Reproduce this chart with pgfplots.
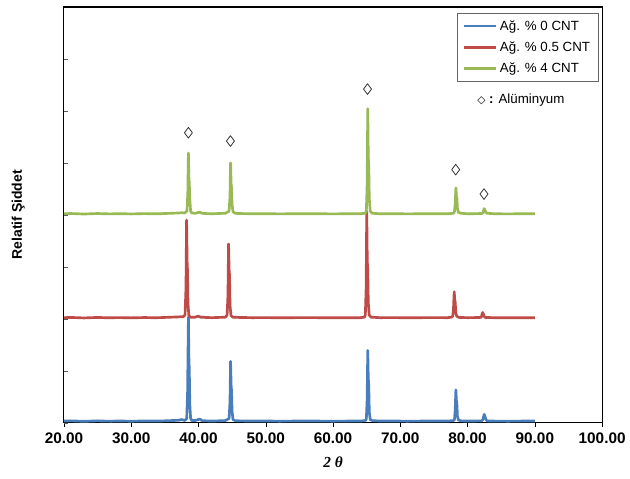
\documentclass[border=0pt]{standalone}
\usepackage{fontspec}
\setmainfont{Liberation Sans}
\newfontfamily\dejavu{DejaVu Sans}
\newfontfamily\serifit{Liberation Serif}
\usepackage{pgfplots}
\pgfplotsset{compat=1.18}

\definecolor{xblue}{HTML}{4A7EBB}
\definecolor{xred}{HTML}{BE4B48}
\definecolor{xgreen}{HTML}{98B954}

\begin{document}
\begin{tikzpicture}
\begin{axis}[
    scale only axis,
    width=404pt, height=312pt,
    xmin=20, xmax=100, ymin=0, ymax=8,
    xtick={20,30,...,100},
    ytick={0,1,...,8}, yticklabels={},
    tick pos=left,
    tick align=outside,
    major tick length=3pt,
    y tick style={xshift=3pt, gray!70!black},
    x tick style={black},
    axis line style={black, line width=0.8pt},
    /pgf/number format/.cd, fixed, fixed zerofill, precision=2, assume math mode=true,
    /pgfplots/.cd,
    ticklabel style={font=\bfseries\fontsize{11.5}{13}\selectfont},
    xticklabel style={yshift=-1pt},
    xlabel={\serifit\bfseries\itshape 2 θ},
    xlabel style={at={(axis description cs:0.5,-0.096)}, anchor=center, font=\fontsize{11.5}{13}\selectfont},
    ylabel={\bfseries Relatif Şiddet},
    ylabel style={at={(axis description cs:-0.085,0.5)}, anchor=center, font=\fontsize{10.5}{12}\selectfont},
    legend style={at={(0.993,0.985)}, anchor=north east, draw=gray!80!black, line width=0.5pt,
        font=\fontsize{10}{12}\selectfont, row sep=3pt, inner xsep=4pt, inner ysep=3pt},
    legend cell align=left,
    legend image code/.code={\draw[#1, line width=2pt] (0cm,0cm) -- (0.85cm,0cm);},
    every axis plot/.append style={line width=2pt, line join=round},
]
% Ag. % 0 CNT
\addplot[xblue] coordinates {
(20,0.03) (21,0.035) (22,0.03) (23,0.025) (24,0.03) (25,0.035) (26,0.03) (27,0.028) (28,0.032)
(29,0.03) (30,0.027) (31,0.03) (32,0.033) (33,0.03) (34,0.03) (35,0.035) (36,0.04) (37,0.045)
(37.5,0.06) (37.95,0.04) (38.25,0.08) (38.38,0.6) (38.5,2.03) (38.58,1.2) (38.63,1.05) (38.71,0.35)
(38.83,0.08) (39.0,0.04) (39.5,0.04) (40.2,0.07) (40.5,0.04) (41,0.035) (42,0.03) (43,0.035) (44,0.04)
(44.55,0.08) (44.68,0.4) (44.77,1.18) (44.85,0.72) (44.91,0.62) (44.99,0.22) (45.13,0.06) (45.4,0.04)
(46,0.035) (48,0.03) (50,0.032) (52,0.028) (54,0.03) (56,0.032) (58,0.03) (60,0.028) (62,0.03) (64,0.03)
(64.8,0.04) (64.95,0.07) (65.07,0.45) (65.16,1.39) (65.24,0.85) (65.31,0.72) (65.39,0.2) (65.53,0.06)
(65.8,0.04) (67,0.03) (69,0.032) (71,0.028) (73,0.03) (75,0.032) (77,0.03) (77.9,0.04)
(78.05,0.06) (78.16,0.25) (78.26,0.63) (78.34,0.42) (78.41,0.36) (78.49,0.12) (78.63,0.05) (79,0.035)
(80,0.03) (81,0.032) (82.1,0.035) (82.28,0.06) (82.47,0.16) (82.58,0.12) (82.68,0.08) (82.83,0.04)
(83,0.032) (84,0.03) (86,0.028) (88,0.03) (90,0.03)
};
\addlegendentry{Ağ. \% 0 CNT}
% Ag. % 0.5 CNT
\addplot[xred] coordinates {
(20,2.02) (21,2.025) (22,2.02) (23,2.015) (24,2.02) (25,2.025) (26,2.02) (27,2.018) (28,2.022)
(29,2.02) (30,2.017) (31,2.02) (32,2.023) (33,2.02) (34,2.02) (35,2.025) (36,2.03) (37,2.035)
(37.5,2.04) (37.7,2.035) (38.0,2.07) (38.14,2.6) (38.23,3.9) (38.31,3.1) (38.36,2.95) (38.44,2.3)
(38.56,2.07) (38.75,2.03) (39.5,2.03) (39.95,2.05) (40.3,2.03) (41,2.025) (42,2.02) (43,2.025) (44,2.03)
(44.25,2.07) (44.38,2.45) (44.47,3.44) (44.55,2.95) (44.61,2.85) (44.69,2.25) (44.83,2.06) (45.1,2.03)
(46,2.025) (48,2.02) (50,2.022) (52,2.018) (54,2.02) (56,2.022) (58,2.02) (60,2.018) (62,2.02) (64,2.02)
(64.65,2.03) (64.8,2.07) (64.92,2.6) (65.01,4.07) (65.09,3.1) (65.16,2.95) (65.24,2.3) (65.38,2.07)
(65.65,2.03) (67,2.02) (69,2.022) (71,2.018) (73,2.02) (75,2.022) (77,2.02) (77.6,2.03)
(77.8,2.05) (77.91,2.22) (78.01,2.52) (78.09,2.36) (78.16,2.32) (78.24,2.12) (78.38,2.05) (78.7,2.025)
(80,2.02) (81,2.022) (81.9,2.025) (82.03,2.03) (82.23,2.12) (82.35,2.09) (82.45,2.05) (82.6,2.025)
(84,2.02) (86,2.018) (88,2.02) (90,2.02)
};
\addlegendentry{Ağ. \% 0.5 CNT}
% Ag. % 4 CNT
\addplot[xgreen] coordinates {
(20,4.02) (21,4.025) (22,4.02) (23,4.015) (24,4.02) (25,4.025) (26,4.02) (27,4.018) (28,4.022)
(29,4.02) (30,4.017) (31,4.02) (32,4.023) (33,4.02) (34,4.02) (35,4.025) (36,4.03) (37,4.035)
(37.5,4.04) (37.95,4.035) (38.28,4.07) (38.41,4.4) (38.5,5.19) (38.58,4.7) (38.63,4.62) (38.71,4.3)
(38.83,4.07) (39.0,4.035) (39.5,4.03) (40.2,4.05) (40.5,4.03) (41,4.025) (42,4.02) (43,4.025) (44,4.03)
(44.55,4.07) (44.68,4.35) (44.77,5.0) (44.85,4.6) (44.91,4.52) (44.99,4.2) (45.13,4.06) (45.4,4.03)
(46,4.025) (48,4.02) (50,4.022) (52,4.018) (54,4.02) (56,4.022) (58,4.02) (60,4.018) (62,4.02) (64,4.02)
(64.8,4.03) (64.95,4.07) (65.07,4.6) (65.16,6.04) (65.24,5.1) (65.31,4.95) (65.39,4.3) (65.53,4.07)
(65.8,4.03) (67,4.02) (69,4.022) (71,4.018) (73,4.02) (75,4.022) (77,4.02) (77.9,4.03)
(78.05,4.06) (78.16,4.22) (78.26,4.52) (78.34,4.36) (78.41,4.32) (78.49,4.12) (78.63,4.05) (79,4.03)
(80,4.02) (81,4.022) (82.1,4.025) (82.28,4.04) (82.47,4.12) (82.58,4.09) (82.68,4.06) (82.83,4.03)
(84,4.02) (86,4.018) (88,4.02) (90,4.02)
};
\addlegendentry{Ağ. \% 4 CNT}
% Al peak markers
\addplot[only marks, mark=diamond, mark size=4pt, line width=0.6pt,
    mark options={draw=black!80, fill=white}, forget plot] coordinates {
(38.5,5.58) (44.75,5.42) (65.13,6.42) (78.23,4.87) (82.44,4.40)
};
\node[anchor=west, font=\fontsize{10}{12}\selectfont, inner sep=0pt]
    at (axis cs:81.4,6.21) {{\dejavu\fontsize{8}{10}\selectfont ◇} \textbf{:} Alüminyum};
\end{axis}
\path (current axis.south west) ++(-48pt,-42pt);
\path (current axis.north east) ++(20.25pt,5.25pt);
\end{tikzpicture}
\end{document}
